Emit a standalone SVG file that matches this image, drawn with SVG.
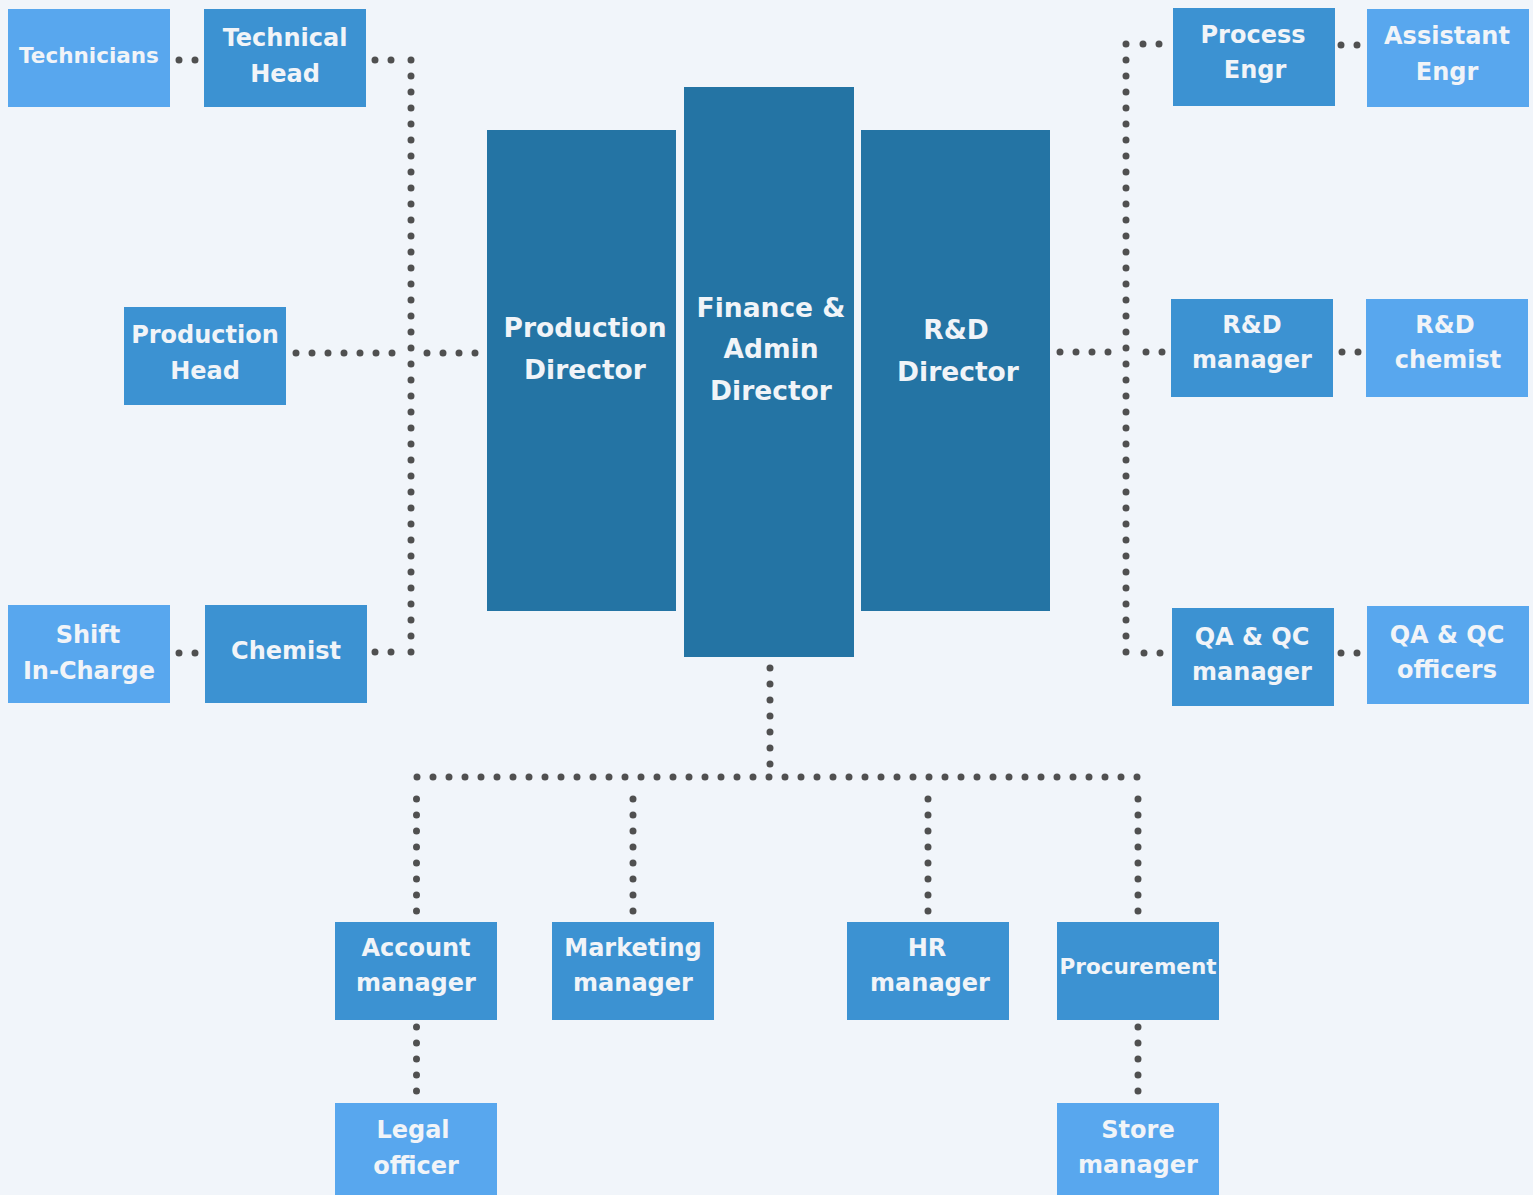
<svg xmlns="http://www.w3.org/2000/svg" width="1533" height="1195" viewBox="0 0 1533 1195">
<style>
.bg{fill:#f1f5fa}
.dark{fill:#2474a4}
.mid{fill:#3c92d2}
.light{fill:#58a7ee}
text{font-family:"DejaVu Sans","Liberation Sans",sans-serif;font-weight:bold;fill:#f1f4f8;text-anchor:middle}
.t{font-size:24px}
.s{font-size:21.5px}
.d{font-size:26.5px}
.dot{stroke:#505050;stroke-width:7;stroke-linecap:round;stroke-dasharray:0 16;fill:none}
</style>
<rect class="bg" x="0" y="0" width="1533" height="1195"/>
<g id="connectors">
<line class="dot" x1="179" y1="60" x2="197" y2="60"/>
<line class="dot" x1="375" y1="60" x2="393" y2="60"/>
<line class="dot" x1="411" y1="60" x2="411" y2="654"/>
<line class="dot" x1="296" y1="353" x2="394" y2="353"/>
<line class="dot" x1="427" y1="353" x2="477" y2="353"/>
<line class="dot" x1="375" y1="652" x2="393" y2="652"/>
<line class="dot" x1="179" y1="653" x2="197" y2="653"/>
<line class="dot" x1="1126" y1="44" x2="1126" y2="654"/>
<line class="dot" x1="1143" y1="44" x2="1161" y2="44"/>
<line class="dot" x1="1341" y1="45" x2="1359" y2="45"/>
<line class="dot" x1="1060" y1="352" x2="1110" y2="352"/>
<line class="dot" x1="1146" y1="352" x2="1164" y2="352"/>
<line class="dot" x1="1342" y1="352" x2="1360" y2="352"/>
<line class="dot" x1="1144" y1="653" x2="1162" y2="653"/>
<line class="dot" x1="1341" y1="653" x2="1359" y2="653"/>
<line class="dot" x1="770" y1="668" x2="770" y2="766"/>
<line class="dot" x1="417" y1="777" x2="1139" y2="777"/>
<line class="dot" x1="416.5" y1="799" x2="416.5" y2="913"/>
<line class="dot" x1="633" y1="799" x2="633" y2="913"/>
<line class="dot" x1="928" y1="799" x2="928" y2="913"/>
<line class="dot" x1="1138" y1="799" x2="1138" y2="913"/>
<line class="dot" x1="416.5" y1="1027" x2="416.5" y2="1093"/>
<line class="dot" x1="1138" y1="1027" x2="1138" y2="1093"/>
</g>
<g id="technicians"><rect class="light" x="8" y="9" width="162" height="98"/><text class="s" x="89" y="63">Technicians</text></g>
<g id="technical-head"><rect class="mid" x="204" y="9" width="162" height="98"/><text class="t" x="285" y="46">Technical</text><text class="t" x="285" y="82">Head</text></g>
<g id="production-head"><rect class="mid" x="124" y="307" width="162" height="98"/><text class="t" x="205" y="343">Production</text><text class="t" x="205" y="379">Head</text></g>
<g id="shift-in-charge"><rect class="light" x="8" y="605" width="162" height="98"/><text class="t" x="88" y="643">Shift</text><text class="t" x="89" y="679">In-Charge</text></g>
<g id="chemist"><rect class="mid" x="205" y="605" width="162" height="98"/><text class="t" x="286" y="659">Chemist</text></g>
<g id="production-director"><rect class="dark" x="487" y="130" width="189" height="481"/><text class="d" x="585" y="337">Production</text><text class="d" x="585" y="379">Director</text></g>
<g id="finance-admin-director"><rect class="dark" x="684" y="87" width="170" height="570"/><text class="d" x="771" y="317">Finance &amp;</text><text class="d" x="771" y="358">Admin</text><text class="d" x="771" y="400">Director</text></g>
<g id="rd-director"><rect class="dark" x="861" y="130" width="189" height="481"/><text class="d" x="956" y="339">R&amp;D</text><text class="d" x="958" y="381">Director</text></g>
<g id="process-engr"><rect class="mid" x="1173" y="8" width="162" height="98"/><text class="t" x="1253" y="43">Process</text><text class="t" x="1255" y="78">Engr</text></g>
<g id="assistant-engr"><rect class="light" x="1367" y="9" width="162" height="98"/><text class="t" x="1447" y="44">Assistant</text><text class="t" x="1447" y="80">Engr</text></g>
<g id="rd-manager"><rect class="mid" x="1171" y="299" width="162" height="98"/><text class="t" x="1252" y="333">R&amp;D</text><text class="t" x="1252" y="368">manager</text></g>
<g id="rd-chemist"><rect class="light" x="1366" y="299" width="162" height="98"/><text class="t" x="1445" y="333">R&amp;D</text><text class="t" x="1448" y="368">chemist</text></g>
<g id="qa-qc-manager"><rect class="mid" x="1172" y="608" width="162" height="98"/><text class="t" x="1252" y="645">QA &amp; QC</text><text class="t" x="1252" y="680">manager</text></g>
<g id="qa-qc-officers"><rect class="light" x="1367" y="606" width="162" height="98"/><text class="t" x="1447" y="643">QA &amp; QC</text><text class="t" x="1447" y="678">officers</text></g>
<g id="account-manager"><rect class="mid" x="335" y="922" width="162" height="98"/><text class="t" x="416" y="956">Account</text><text class="t" x="416" y="991">manager</text></g>
<g id="marketing-manager"><rect class="mid" x="552" y="922" width="162" height="98"/><text class="t" x="633" y="956">Marketing</text><text class="t" x="633" y="991">manager</text></g>
<g id="hr-manager"><rect class="mid" x="847" y="922" width="162" height="98"/><text class="t" x="927" y="956">HR</text><text class="t" x="930" y="991">manager</text></g>
<g id="procurement"><rect class="mid" x="1057" y="922" width="162" height="98"/><text class="s" x="1138" y="974">Procurement</text></g>
<g id="legal-officer"><rect class="light" x="335" y="1103" width="162" height="92"/><text class="t" x="413" y="1138">Legal</text><text class="t" x="416" y="1174">officer</text></g>
<g id="store-manager"><rect class="light" x="1057" y="1103" width="162" height="92"/><text class="t" x="1138" y="1138">Store</text><text class="t" x="1138" y="1173">manager</text></g>
</svg>
